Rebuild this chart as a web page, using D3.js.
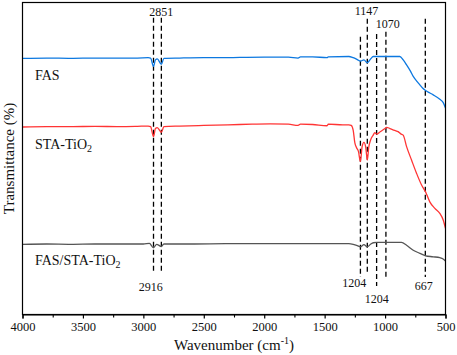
<!DOCTYPE html>
<html><head><meta charset="utf-8">
<script src="https://cdn.jsdelivr.net/npm/d3@7"></script>
<style>
html,body{margin:0;padding:0;background:#fff;}
svg{display:block;}
svg text{font-family:"Liberation Serif","Times New Roman",serif !important;}
</style></head>
<body><svg id="c" width="457" height="355"></svg>
<script>
// ---- data (wavenumber cm-1, transmittance arbitrary %) ----
const fasWn = [4000,3800,3600,3400,3200,3050,2960,2940,2916,2900,2885,2851,2830,2700,2500,2360,2200,2000,1800,1720,1700,1600,1480,1470,1300,1264,1230,1204,1175,1147,1120,1098,1000,878,850,822,790,767,740,712,690,665,630,602,547,520,500];
const fasT  = [82.1,82.2,82.1,82.2,82.2,82.2,82.3,82.2,79.5,81.6,81.9,80.2,82.1,82.2,82.3,82.3,82.4,82.5,82.5,82.2,82.6,82.6,82.3,82.6,82.7,82.3,81.7,81.2,81.6,80.7,81.9,82.7,82.7,82.7,81.6,80.0,78.0,76.3,74.9,73.6,72.6,71.8,71.0,70.4,69.0,68.0,66.2];

const staWn = [4000,3800,3600,3400,3200,3050,2960,2940,2916,2900,2885,2851,2830,2700,2500,2300,2100,1950,1800,1720,1700,1600,1480,1470,1350,1300,1280,1264,1250,1235,1220,1204,1190,1175,1160,1147,1135,1120,1098,1085,1070,1040,1000,987,960,920,892,870,850,822,781,740,698,665,630,588,547,519,500];
const staT  = [60.1,60.2,60.2,60.3,60.2,60.3,60.4,60.2,57.0,59.6,59.9,58.4,60.2,60.4,60.6,60.8,61.0,61.1,61.0,60.6,61.0,60.9,60.5,61.0,60.8,60.8,60.6,59.1,55.0,53.4,52.2,49.0,53.8,55.2,53.6,49.5,53.6,55.9,57.5,58.3,57.8,58.6,59.6,60.0,59.6,59.0,58.6,57.9,57.5,53.8,49.5,45.3,41.5,39.3,36.1,34.0,32.4,30.3,27.6];

const mixWn = [4000,3800,3600,3400,3200,3000,2950,2916,2890,2851,2830,2600,2300,2000,1700,1500,1300,1264,1230,1204,1175,1147,1120,1098,1070,950,864,822,767,712,665,602,547,520,500];
const mixT  = [22.5,22.6,22.5,22.6,22.6,22.6,22.8,21.4,22.5,21.8,22.6,22.6,22.7,22.7,22.7,22.7,22.7,22.5,22.1,21.7,22.4,21.7,22.5,23.0,23.1,23.1,23.1,22.2,20.6,19.6,18.8,18.5,18.2,17.8,17.1];

const seriesNames = ["FAS", "STA-TiO", "FAS/STA-TiO"];
const seriesSubs  = ["", "2", "2"];
const labelT      = [75.2, 53.2, 15.8];

// dashed marker lines: wavenumber, top and bottom (in transmittance units)
const markWn     = [2916, 2851, 1204, 1147, 1070, 993, 667];
const markTop    = [95.1, 95.1, 89.0, 94.8, 89.9, 90.6, 94.8];
const markBottom = [13.6, 13.6, 12.0, 13.6, 9.1, 12.0, 12.0];

// peak labels
const peakText = ["2851", "1147", "1070", "2916", "1204", "1204", "667"];
const peakWn   = [2851, 1153, 977, 2939, 1254, 1068, 679];
const peakT    = [95.7, 96.0, 91.7, 7.6, 8.9, 3.6, 7.8];

const majorTicks = [4000,3500,3000,2500,2000,1500,1000,500];
const minorTicks = [3750,3250,2750,2250,1750,1250,750];

// ---- layout ----
const W = 457, H = 355;
const m = {left: 22.5, right: 11.5, top: 2.5, bottom: 40.5};
const svg = d3.select("#c");
const x = d3.scaleLinear().domain([4000, 500]).range([m.left, W - m.right]);
const y = d3.scaleLinear().domain([0, 100]).range([H - m.bottom, m.top]);

const colors = ["#0c78e0", "#ff3434", "#555555"];
const all = [[fasWn, fasT], [staWn, staT], [mixWn, mixT]];

// dashed lines
svg.append("g").selectAll("line").data(markWn).join("line")
  .attr("x1", d => x(d)).attr("x2", d => x(d))
  .attr("y1", (d, i) => y(markTop[i])).attr("y2", (d, i) => y(markBottom[i]))
  .attr("stroke", "#000").attr("stroke-width", 1.3)
  .attr("stroke-dasharray", "5,3");

// spectra
const line = d3.line().x(d => x(d[0])).y(d => y(d[1])).curve(d3.curveMonotoneX);
all.forEach((s, i) => {
  const pts = s[0].map((w, j) => [w, s[1][j]]);
  svg.append("path").datum(pts).attr("d", line)
    .attr("fill", "none").attr("stroke", colors[i]).attr("stroke-width", 1.3);
});

// series labels
seriesNames.forEach((n, i) => {
  const t = svg.append("text").attr("x", x(3897)).attr("y", y(labelT[i]))
    .attr("font-size", 14).attr("fill", "#111").text(n);
  if (seriesSubs[i]) t.append("tspan").attr("font-size", 10).attr("dy", 3).text(seriesSubs[i]);
});

// peak labels
svg.append("g").selectAll("text").data(peakText).join("text")
  .attr("x", (d, i) => x(peakWn[i])).attr("y", (d, i) => y(peakT[i]))
  .attr("text-anchor", "middle").attr("font-size", 12).attr("fill", "#111")
  .text(d => d);

// frame
svg.append("rect").attr("x", m.left).attr("y", m.top)
  .attr("width", W - m.left - m.right).attr("height", H - m.top - m.bottom)
  .attr("fill", "none").attr("stroke", "#000").attr("stroke-width", 1.2);

// x axis
const gx = svg.append("g").attr("transform", `translate(0,${H - m.bottom})`)
  .call(d3.axisBottom(x).tickValues(majorTicks).tickSize(4).tickPadding(4).tickFormat(d3.format("d")));
gx.attr("font-family", null);
gx.select(".domain").attr("stroke-width", 1.2);
gx.selectAll("text").attr("font-size", 12.5).attr("fill", "#111");
gx.selectAll("line").attr("stroke-width", 1.2);
const gm = svg.append("g").attr("transform", `translate(0,${H - m.bottom})`)
  .call(d3.axisBottom(x).tickValues(minorTicks).tickSize(3).tickFormat(""));
gm.select(".domain").remove();
gm.selectAll("line").attr("stroke-width", 1.1);

// axis titles
const xt = svg.append("text").attr("x", (m.left + W - m.right) / 2).attr("y", 350)
  .attr("text-anchor", "middle").attr("font-size", 15).attr("fill", "#111").text("Wavenumber (cm");
xt.append("tspan").attr("font-size", 10).attr("dy", -6).text("-1");
xt.append("tspan").attr("dy", 6).text(")");

svg.append("text").attr("transform", `translate(13.5,${(m.top + H - m.bottom) / 2}) rotate(-90)`)
  .attr("text-anchor", "middle").attr("font-size", 15).attr("fill", "#111").text("Transmittance (%)");
</script></body></html>
